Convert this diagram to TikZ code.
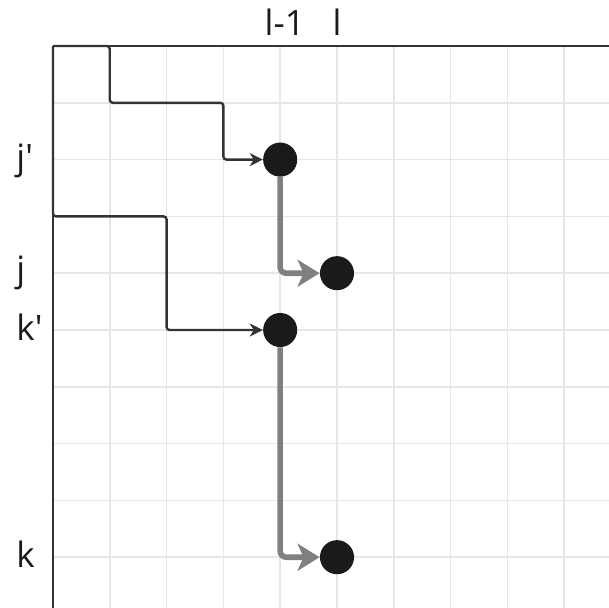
\documentclass[tikz,border=0pt]{standalone}
\usepackage{fontspec}
\setmainfont{Open Sans}
\usetikzlibrary{arrows.meta}
\definecolor{gridgray}{HTML}{E6E6E6}
\definecolor{axisgray}{HTML}{333333}
\definecolor{pathdark}{HTML}{333333}
\definecolor{flowgray}{HTML}{808080}
\definecolor{dotblack}{HTML}{1A1A1A}
\tikzset{
  gridline/.style={draw=gridgray, line width=0.75pt},
  axisline/.style={draw=axisgray, line width=0.8pt},
  feed/.style={draw=pathdark, line width=1.2pt, rounded corners=1.5pt,
    -{Stealth[length=6.5pt, width=6.5pt, inset=2pt]}},
  flow/.style={draw=flowgray, line width=2.8pt, rounded corners=3pt,
    -{Stealth[length=11pt, width=13.5pt, inset=3pt]}},
  unit/.style={circle, fill=dotblack, minimum size=0.6cm, inner sep=0pt},
  lbl/.style={text=dotblack, font=\fontsize{17.5}{20}\selectfont, inner sep=0pt}
}
\begin{document}
\begin{tikzpicture}
  \useasboundingbox (-0.933,0.81) rectangle (9.789,-9.894);
  % background grid
  \foreach \i in {1,...,9} {
    \draw[gridline] (\i,0) -- (\i,-9.894);
    \draw[gridline] (0,-\i) -- (9.789,-\i);
  }
  % axes
  \coordinate (o) at (0,0);
  \draw[axisline] (o) -- (9.789,0);
  \draw[axisline] (o) -- (0,-9.894);
  % units
  \node[unit] (a) at (4,-2) {};
  \node[unit] (b) at (5,-4) {};
  \node[unit] (c) at (4,-5) {};
  \node[unit] (d) at (5,-9) {};
  % feed paths
  \draw[feed] (o) -- (1,0) -- (1,-1) -- (3,-1) |- (a);
  \draw[feed] (o) -- (0,-3) -- (2,-3) |- (c);
  % flow arrows
  \draw[flow] (a) |- (b);
  \draw[flow] (c) |- (d);
  % labels
  \node[lbl, anchor=base] (t1) at (4.08,0.19) {l-1};
  \node[lbl, anchor=base] (t2) at (5,0.19) {l};
  \node[lbl, anchor=base west] (r1) at (-0.65,-2.17) {j\textquotesingle};
  \node[lbl, anchor=base west] (r2) at (-0.65,-4.15) {j};
  \node[lbl, anchor=base west] (r3) at (-0.65,-5.18) {k\textquotesingle};
  \node[lbl, anchor=base west] (r4) at (-0.65,-9.18) {k};
\end{tikzpicture}
\end{document}
